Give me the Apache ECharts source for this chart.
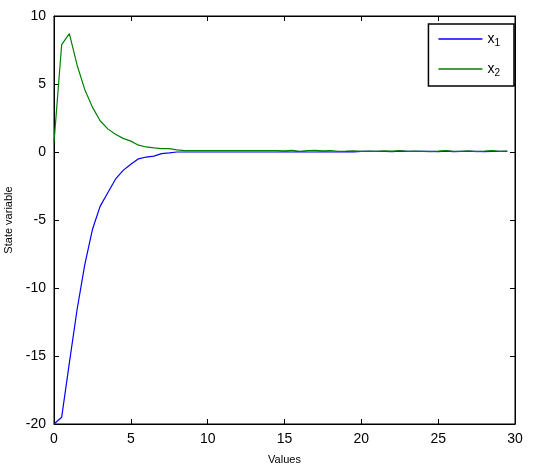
<!DOCTYPE html>
<html>
<head>
<meta charset="utf-8">
<script src="https://cdn.jsdelivr.net/npm/echarts@6/dist/echarts.min.js"></script>
<style>html,body{margin:0;padding:0;background:#fff}#c{width:534px;height:472px}</style>
</head>
<body>
<div id="c"></div>
<script>
const xs = []
for (let i = 0; i < 60; i++) xs.push(i * 0.5)

const x1 = [-20, -19.5, -15.5, -11.6, -8.3, -5.7, -4.0, -3.0, -2.0, -1.35,
  -0.9, -0.5, -0.37, -0.3, -0.12, -0.07, 0, 0, 0, 0,
  0, 0, 0, 0, 0, 0, 0, 0, 0, 0,
  0.02, 0, 0.03, 0, 0, 0.02, 0, 0, 0.03, 0.01,
  0.05, 0.04, 0.04, 0.05, 0.02, 0.06, 0.05, 0.05, 0.04, 0.05,
  0.03, 0.06, 0.03, 0.05, 0.04, 0.05, 0.03, 0.05, 0.04, 0.05]
const x2 = [0.7, 7.9, 8.7, 6.4, 4.6, 3.3, 2.3, 1.7, 1.3, 1.0,
  0.8, 0.5, 0.37, 0.3, 0.25, 0.25, 0.15, 0.1, 0.1, 0.1,
  0.1, 0.1, 0.1, 0.1, 0.1, 0.1, 0.1, 0.1, 0.1, 0.1,
  0.08, 0.12, 0.05, 0.1, 0.12, 0.08, 0.1, 0.05, 0.06, 0.08,
  0.05, 0.06, 0.04, 0.08, 0.06, 0.1, 0.05, 0.06, 0.05, 0.03,
  0.06, 0.1, 0.05, 0.04, 0.08, 0.03, 0.06, 0.1, 0.05, 0.07]

const font = 'Liberation Sans, Arial'
const chart = echarts.init(document.getElementById('c'))
const axisCommon = {
  axisLine: { onZero: false, lineStyle: { color: '#000' } },
  axisTick: { inside: true, length: 5, lineStyle: { color: '#000' } },
  axisLabel: { color: '#000', fontSize: 14, fontFamily: font },
  splitLine: { show: false }
}
const mirror = { axisLabel: { show: false }, axisTick: { inside: true, length: 5, lineStyle: { color: '#000' } }, axisLine: { onZero: false, lineStyle: { color: '#000' } }, splitLine: { show: false } }
chart.setOption({
  animation: false,
  grid: { left: 54, right: 19, top: 16, bottom: 48, show: true, borderColor: '#000', borderWidth: 1, outerBoundsMode: 'none' },
  xAxis: [Object.assign({
    type: 'value', min: 0, max: 30, interval: 5,
    name: 'Values', nameLocation: 'middle', nameGap: 30,
    nameTextStyle: { fontSize: 11, color: '#000', fontFamily: font }
  }, axisCommon),
  Object.assign({ type: 'value', position: 'top', min: 0, max: 30, interval: 5 }, mirror)],
  yAxis: [Object.assign({
    type: 'value', min: -20, max: 10, interval: 5,
    name: 'State variable', nameLocation: 'middle', nameGap: 36,
    nameTextStyle: { fontSize: 11, color: '#000', fontFamily: font }
  }, axisCommon),
  Object.assign({ type: 'value', position: 'right', min: -20, max: 10, interval: 5 }, mirror)],
  legend: {
    right: 20, top: 24, orient: 'vertical',
    borderColor: '#000', borderWidth: 1.5, padding: [8, 14, 8, 10],
    backgroundColor: '#fff', itemGap: 14,
    icon: 'rect', itemWidth: 44, itemHeight: 1.5,
    formatter: n => n === 'x1' ? '{m|x}{s|1}' : '{m|x}{s|2}',
    textStyle: {
      rich: {
        m: { fontSize: 14, color: '#000', fontFamily: font },
        s: { fontSize: 10, color: '#000', verticalAlign: 'bottom', padding: [8, 0, 0, 0], fontFamily: font }
      }
    }
  },
  series: [
    { name: 'x1', type: 'line', data: xs.map((x, i) => [x, x1[i]]), showSymbol: false, lineStyle: { color: '#0000ff', width: 1.2 }, itemStyle: { color: '#0000ff' } },
    { name: 'x2', type: 'line', data: xs.map((x, i) => [x, x2[i]]), showSymbol: false, lineStyle: { color: '#008000', width: 1.2 }, itemStyle: { color: '#008000' } }
  ]
})
</script>
</body>
</html>
